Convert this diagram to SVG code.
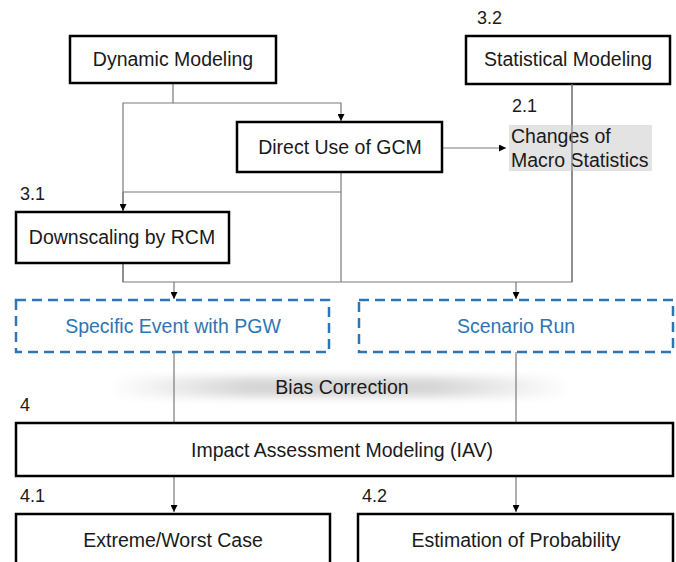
<svg xmlns="http://www.w3.org/2000/svg" width="676" height="562" viewBox="0 0 676 562">
<style>
.box{fill:#fff;stroke:#000;stroke-width:2.5}
.dbox{fill:#fff;stroke:#2e75b6;stroke-width:2.5;stroke-dasharray:10,6}
.t{font-family:"Liberation Sans",Arial,sans-serif;font-size:19.5px;fill:#1a1a1a;text-anchor:middle}
.tb{font-family:"Liberation Sans",Arial,sans-serif;font-size:19.5px;fill:#2e75b6;text-anchor:middle}
.n{font-family:"Liberation Sans",Arial,sans-serif;font-size:18px;fill:#1a1a1a}
.c{fill:none;stroke:#7a7a7a;stroke-width:1.2}
</style>
<defs>
<marker id="ah" viewBox="0 0 10 10" refX="10" refY="5" markerWidth="7" markerHeight="7" orient="auto" markerUnits="userSpaceOnUse">
<path d="M0,0 L10,5 L0,10 z" fill="#000"/>
</marker>
<linearGradient id="bg" x1="0" x2="1" y1="0" y2="0">
<stop offset="0" stop-color="#fff"/>
<stop offset="0.3" stop-color="#d6d6d6"/>
<stop offset="0.7" stop-color="#d6d6d6"/>
<stop offset="1" stop-color="#fff"/>
</linearGradient>
<filter id="blur" x="-10%" y="-50%" width="120%" height="200%"><feGaussianBlur stdDeviation="4"/></filter>
</defs>
<rect width="676" height="562" fill="#fff"/>
<g id="bias">
<rect x="110" y="377" width="460" height="20" fill="url(#bg)" filter="url(#blur)"/>
<text class="t" x="342" y="394">Bias Correction</text>
</g>
<g id="connectors">
<path class="c" d="M173,83 V103 H123 V282"/>
<path class="c" d="M173,103 H341 V121" marker-end="url(#ah)"/>
<path class="c" d="M123,192 H341"/>
<path class="c" d="M123,192 V211" marker-end="url(#ah)"/>
<path class="c" d="M123,263 V282 H572 V84"/>
<path class="c" d="M341,172 V282"/>
<path class="c" d="M174,282 V299" marker-end="url(#ah)"/>
<path class="c" d="M516,282 V299" marker-end="url(#ah)"/>
<path class="c" d="M443,148 H506" marker-end="url(#ah)"/>
<path class="c" d="M174,352 V422"/>
<path class="c" d="M516,352 V422"/>
<path class="c" d="M174,476 V512" marker-end="url(#ah)"/>
<path class="c" d="M516,476 V512" marker-end="url(#ah)"/>
</g>
<g id="dynamic">
<rect class="box" x="70" y="36" width="206" height="47"/>
<text class="t" x="173" y="66">Dynamic Modeling</text>
</g>
<g id="statistical">
<text class="n" x="477" y="24">3.2</text>
<rect class="box" x="466" y="36" width="204" height="48"/>
<text class="t" x="568" y="66">Statistical Modeling</text>
</g>
<g id="gcm">
<rect class="box" x="237" y="122" width="205" height="50"/>
<text class="t" x="340" y="154">Direct Use of GCM</text>
</g>
<g id="macro">
<text class="n" x="512" y="112">2.1</text>
<rect x="509" y="125" width="143" height="46" fill="#e3e3e3"/>
<text class="t" x="511" y="143" style="text-anchor:start">Changes  of</text>
<text class="t" x="511" y="167" style="text-anchor:start">Macro Statistics</text>
</g>
<line class="c" x1="572" y1="84" x2="572" y2="282"/>
<g id="rcm">
<text class="n" x="20" y="200">3.1</text>
<rect class="box" x="16" y="212" width="213" height="51"/>
<text class="t" x="122" y="244">Downscaling by RCM</text>
</g>
<g id="pgw">
<rect class="dbox" x="16" y="300" width="313" height="52"/>
<text class="tb" x="173" y="333">Specific Event with PGW</text>
</g>
<g id="scenario">
<rect class="dbox" x="359" y="300" width="314" height="52"/>
<text class="tb" x="516" y="333">Scenario Run</text>
</g>
<g id="iav">
<text class="n" x="20" y="411">4</text>
<rect class="box" x="16" y="423" width="657" height="53"/>
<text class="t" x="342" y="457">Impact Assessment Modeling (IAV)</text>
</g>
<g id="extreme">
<text class="n" x="20" y="502">4.1</text>
<rect class="box" x="16" y="514" width="314" height="60"/>
<text class="t" x="173" y="547">Extreme/Worst Case</text>
</g>
<g id="prob">
<text class="n" x="362" y="502">4.2</text>
<rect class="box" x="358" y="514" width="315" height="60"/>
<text class="t" x="516" y="547">Estimation of Probability</text>
</g>
</svg>
